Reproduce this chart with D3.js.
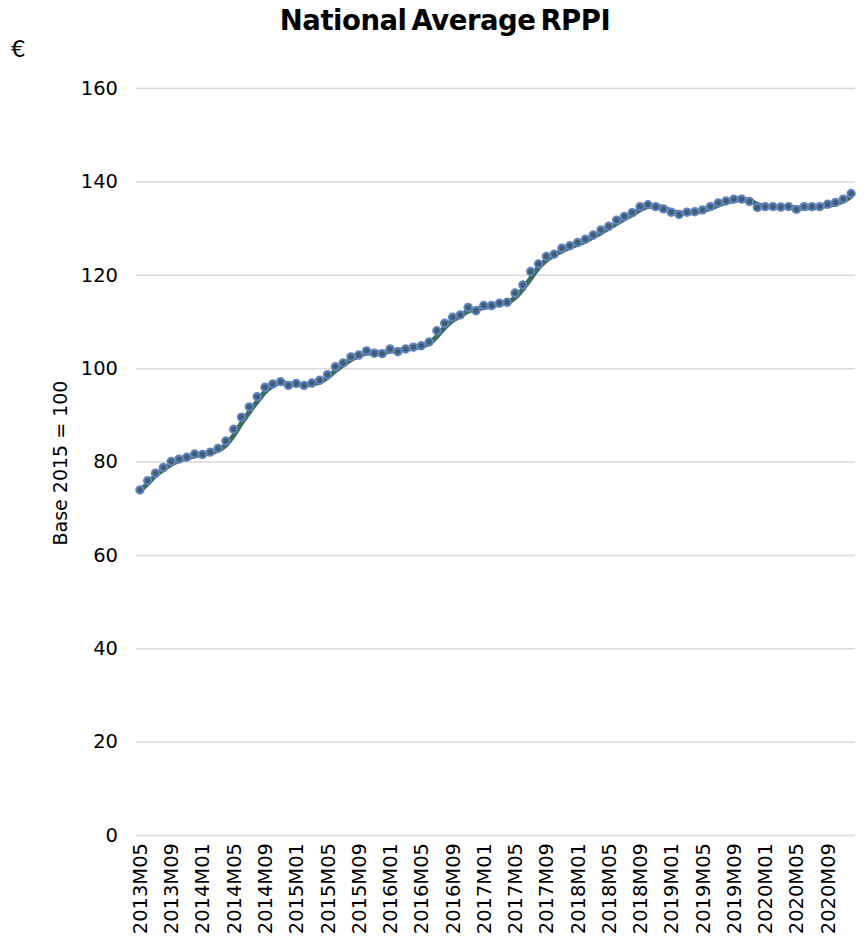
<!DOCTYPE html>
<html lang='en'>
<head>
  <meta charset='utf-8'>
  <script src="https://d3js.org/d3.v7.min.js"></script>
  <title>National Average RPPI</title>
  <style>
    body { margin: 0; background: #fff; }
    text { font-family: "DejaVu Sans", Verdana, sans-serif; fill: #000; }
  </style>
</head>
<body>
<div id="chart"></div>
<script>
// categories: monthly, 2013M05 .. 2020M12
const months = [
  "2013M05","2013M06","2013M07","2013M08","2013M09","2013M10","2013M11","2013M12",
  "2014M01","2014M02","2014M03","2014M04","2014M05","2014M06","2014M07","2014M08","2014M09","2014M10","2014M11","2014M12",
  "2015M01","2015M02","2015M03","2015M04","2015M05","2015M06","2015M07","2015M08","2015M09","2015M10","2015M11","2015M12",
  "2016M01","2016M02","2016M03","2016M04","2016M05","2016M06","2016M07","2016M08","2016M09","2016M10","2016M11","2016M12",
  "2017M01","2017M02","2017M03","2017M04","2017M05","2017M06","2017M07","2017M08","2017M09","2017M10","2017M11","2017M12",
  "2018M01","2018M02","2018M03","2018M04","2018M05","2018M06","2018M07","2018M08","2018M09","2018M10","2018M11","2018M12",
  "2019M01","2019M02","2019M03","2019M04","2019M05","2019M06","2019M07","2019M08","2019M09","2019M10","2019M11","2019M12",
  "2020M01","2020M02","2020M03","2020M04","2020M05","2020M06","2020M07","2020M08","2020M09","2020M10","2020M11","2020M12"
];

// monthly index (dots)
const rppi = [
  73.9, 75.9, 77.5, 78.7, 80.0, 80.5, 80.9, 81.6,
  81.5, 82.0, 82.8, 84.4, 86.9, 89.5, 91.7, 93.9, 95.9, 96.6, 97.1, 96.3,
  96.7, 96.3, 96.8, 97.4, 98.6, 100.3, 101.1, 102.4, 102.8, 103.7, 103.2, 103.1,
  104.1, 103.5, 104.1, 104.5, 104.8, 105.6, 108.0, 109.6, 110.9, 111.4, 113.0, 112.3,
  113.4, 113.4, 113.9, 114.1, 116.1, 117.8, 120.7, 122.3, 123.9, 124.4, 125.7, 126.2,
  126.9, 127.6, 128.5, 129.6, 130.4, 131.7, 132.5, 133.3, 134.6, 135.0, 134.6, 134.1,
  133.4, 132.9, 133.4, 133.5, 133.9, 134.6, 135.4, 135.8, 136.2, 136.2, 135.7, 134.4,
  134.6, 134.6, 134.5, 134.6, 134.0, 134.6, 134.6, 134.6, 135.1, 135.5, 136.2, 137.4
];

// smoothed trend (green line)
const trend = [
  73.7, 75.3, 77.0, 78.3, 79.4, 80.2, 80.7, 81.2,
  81.5, 81.8, 82.4, 83.5, 85.6, 88.2, 90.6, 92.8, 94.9, 96.2, 96.8, 96.7,
  96.5, 96.4, 96.6, 97.0, 98.0, 99.4, 100.7, 101.8, 102.6, 103.2, 103.3, 103.3,
  103.6, 103.8, 104.0, 104.3, 104.7, 105.3, 106.8, 108.7, 110.2, 111.2, 112.2, 112.6,
  113.0, 113.3, 113.7, 114.0, 115.1, 116.9, 119.2, 121.5, 123.1, 124.2, 125.1, 125.9,
  126.5, 127.2, 128.1, 129.0, 130.0, 131.0, 132.0, 132.9, 133.9, 134.6, 134.7, 134.3,
  133.7, 133.2, 133.2, 133.4, 133.7, 134.2, 134.9, 135.5, 135.9, 136.1, 135.9, 135.1,
  134.6, 134.5, 134.5, 134.5, 134.3, 134.3, 134.4, 134.6, 134.8, 135.2, 135.8, 136.8
];

const xTicks = [
  "2013M05","2013M09","2014M01","2014M05","2014M09","2015M01","2015M05","2015M09",
  "2016M01","2016M05","2016M09","2017M01","2017M05","2017M09","2018M01","2018M05",
  "2018M09","2019M01","2019M05","2019M09","2020M01","2020M05","2020M09"
];
const yTicks = [0, 20, 40, 60, 80, 100, 120, 140, 160];

const W = 864, H = 944;
const margin = {left: 136, right: 855, top: 88, bottom: 835};

const svg = d3.select("#chart").append("svg")
  .attr("width", W)
  .attr("height", H);

const x = d3.scaleBand()
  .domain(months)
  .range([margin.left, margin.right]);

const y = d3.scaleLinear()
  .domain([0, 160])
  .range([margin.bottom, margin.top]);

const cx = d => x(d) + x.bandwidth() / 2;

// gridlines + y labels
const yAxis = svg.append("g")
  .attr("transform", `translate(${margin.left},0)`)
  .call(d3.axisLeft(y).tickValues(yTicks).tickSize(-(margin.right - margin.left)).tickPadding(18));
yAxis.select(".domain").remove();
yAxis.selectAll(".tick line").attr("stroke", "#d9d9d9").attr("stroke-width", 1.5);
yAxis.selectAll(".tick text")
  .style("font-family", "DejaVu Sans, Verdana, sans-serif")
  .style("font-size", "19.5px")
  .attr("fill", "#111");

// x labels, rotated
const xAxis = svg.append("g")
  .attr("transform", `translate(0,${margin.bottom})`)
  .call(d3.axisBottom(x).tickValues(xTicks).tickSize(0).tickPadding(0));
xAxis.select(".domain").remove();
xAxis.selectAll(".tick text")
  .style("font-family", "DejaVu Sans, Verdana, sans-serif")
  .style("font-size", "19.5px")
  .attr("fill", "#111")
  .attr("transform", "rotate(-90)")
  .attr("text-anchor", "end")
  .attr("x", -8)
  .attr("y", 0)
  .attr("dy", "0.36em");

// trend line
svg.append("path")
  .datum(months)
  .attr("fill", "none")
  .attr("stroke", "#3b6c5f")
  .attr("stroke-width", 5)
  .attr("stroke-linejoin", "round")
  .attr("d", d3.line()
    .x(d => cx(d))
    .y((d, i) => y(trend[i]))
    .curve(d3.curveMonotoneX));

// dots
svg.append("g")
  .selectAll("circle")
  .data(months)
  .join("circle")
    .attr("cx", d => cx(d))
    .attr("cy", (d, i) => y(rppi[i]))
    .attr("r", 3.7)
    .attr("fill", "#3d5e76")
    .attr("stroke", "#6283bb")
    .attr("stroke-width", 2);

// title
svg.append("text")
  .attr("x", 445)
  .attr("y", 30)
  .attr("text-anchor", "middle")
  .style("font-weight", "bold")
  .style("font-size", "27.5px")
  .style("letter-spacing", "-0.5px")
  .style("word-spacing", "-4px")
  .text("National Average RPPI");

// currency mark
svg.append("text")
  .attr("x", 11)
  .attr("y", 57)
  .style("font-size", "23px")
  .text("€");

// y label
svg.append("text")
  .attr("transform", "translate(67,463) rotate(-90)")
  .attr("text-anchor", "middle")
  .style("font-size", "19px")
  .text("Base 2015 = 100");
</script>
</body>
</html>
